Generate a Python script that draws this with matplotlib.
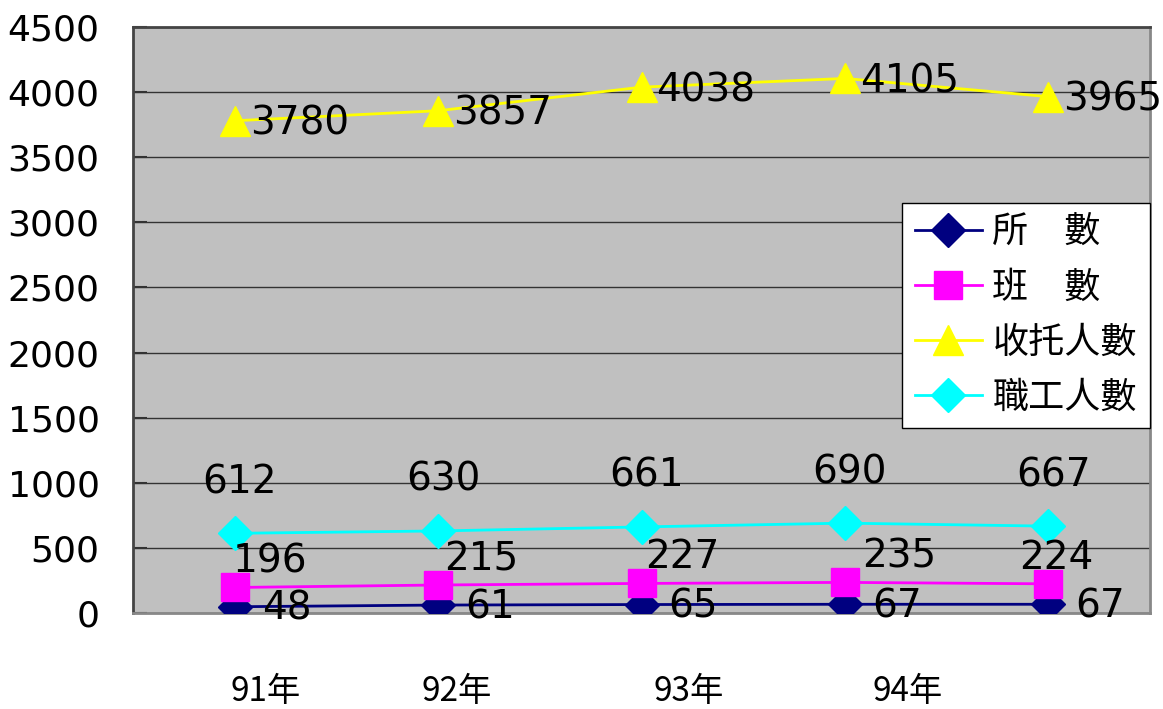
import matplotlib
matplotlib.use("Agg")
import matplotlib.pyplot as plt

plt.rcParams['font.family'] = ['DejaVu Sans', 'Noto Sans CJK TC']

years = ["91年", "92年", "93年", "94年"]
series_names = ["所　數", "班　數", "收托人數", "職工人數"]
suo = [48, 61, 65, 67, 67]
ban = [196, 215, 227, 235, 224]
shoutuo = [3780, 3857, 4038, 4105, 3965]
zhigong = [612, 630, 661, 690, 667]

# style / layout
year_tick_pos = [0.15, 1.09, 2.23, 3.31]
ban_label_dx = [35, 43, 41, 54, 8]

fig = plt.figure(figsize=(11.63, 7.09), dpi=100)
ax = fig.add_axes([133/1163, 1 - 613/709, 1017/1163, 586/709])
ax.set_facecolor('#C0C0C0')

x = list(range(len(suo)))
l1, = ax.plot(x, suo, color='#000080', lw=2, marker='D', ms=17, mfc='#000080', mec='#000080', label=series_names[0], zorder=4)
l2, = ax.plot(x, ban, color='#FF00FF', lw=2, marker='s', ms=20, mfc='#FF00FF', mec='#FF00FF', label=series_names[1], zorder=4)
l3, = ax.plot(x, shoutuo, color='#FFFF00', lw=2, marker='^', ms=21, mfc='#FFFF00', mec='#FFFF00', label=series_names[2], zorder=4)
l4, = ax.plot(x, zhigong, color='#00FFFF', lw=2, marker='D', ms=17, mfc='#00FFFF', mec='#00FFFF', label=series_names[3], zorder=4)

fs = 28
for i, v in enumerate(shoutuo):
    ax.annotate(str(v), (i, v), xytext=(15, -3), textcoords='offset pixels',
                ha='left', va='center', fontsize=fs, zorder=5)
for i, v in enumerate(zhigong):
    ax.annotate(str(v), (i, v), xytext=(5, 51), textcoords='offset pixels',
                ha='center', va='center', fontsize=fs, zorder=5)
for i, v in enumerate(ban):
    ax.annotate(str(v), (i, v), xytext=(ban_label_dx[i], 26), textcoords='offset pixels',
                ha='center', va='center', fontsize=fs, zorder=5)
for i, v in enumerate(suo):
    ax.annotate(str(v), (i, v), xytext=(27, -2), textcoords='offset pixels',
                ha='left', va='center', fontsize=fs, zorder=5)

ax.set_xlim(-0.5, 4.5)
ax.set_ylim(0, 4500)
ax.set_yticks(range(0, 4501, 500))
ax.tick_params(axis='y', direction='in', length=10, width=1.5, color='#333333',
               labelsize=26, pad=24)
ax.set_xticks(year_tick_pos)
ax.set_xticklabels(years, fontfamily=['Noto Sans CJK TC'], fontsize=24)
ax.tick_params(axis='x', length=0, pad=44)
ax.yaxis.grid(True, color='#333333', lw=1)
ax.set_axisbelow(True)
for s in ['left', 'top']:
    ax.spines[s].set_color('#444444')
    ax.spines[s].set_linewidth(2)
for s in ['right', 'bottom']:
    ax.spines[s].set_color('#888888')
    ax.spines[s].set_linewidth(2)

leg = ax.legend(handles=[l1, l2, l3, l4], loc='upper right', bbox_to_anchor=(1.0, 0.70),
                borderaxespad=0, fancybox=False, framealpha=1, edgecolor='black',
                fontsize=26, handlelength=1.85, handletextpad=0.3, labelspacing=0.58,
                borderpad=0.36, markerscale=1.0)
leg.get_frame().set_linewidth(1)

fig.savefig('out.png', dpi=100)
